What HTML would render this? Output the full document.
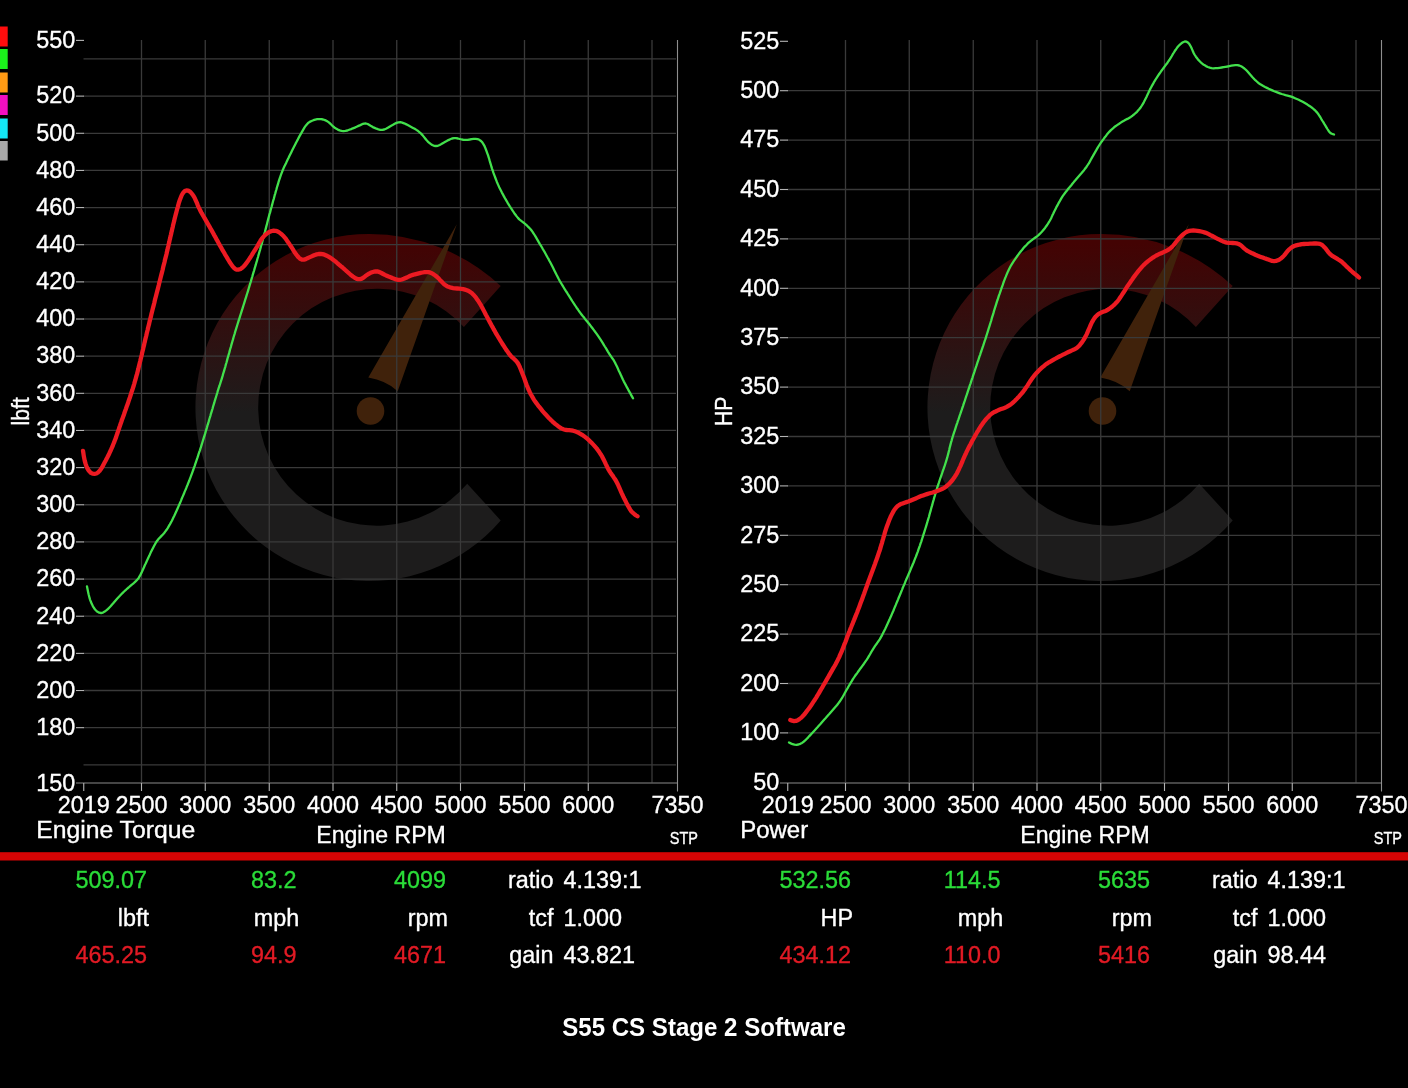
<!DOCTYPE html>
<html><head><meta charset="utf-8"><title>S55 CS Stage 2 Software</title>
<style>
html,body{margin:0;padding:0;background:#000;}
body{width:1408px;height:1088px;overflow:hidden;}
svg{display:block;font-family:"Liberation Sans",sans-serif;}
text{stroke-width:0.35px;paint-order:stroke;}
.t{fill:#fff;stroke:#fff;font-size:24.5px;}
.g{fill:#2adc38;stroke:#2adc38;font-size:24.5px;}
.r{fill:#e11a24;stroke:#e11a24;font-size:24.5px;}
</style></head><body>
<svg style="will-change:transform" width="1408" height="1088" viewBox="0 0 1408 1088">
<rect width="1408" height="1088" fill="#000"/>
<defs>
<linearGradient id="wg" gradientUnits="userSpaceOnUse" x1="0" y1="244" x2="0" y2="412">
<stop offset="0" stop-color="#430303"/><stop offset="1" stop-color="#1d1c1c"/></linearGradient>
<g id="wm">
<path d="M500.7 286A192.8 192.8 0 0 0 369 234A173.5 173.5 0 1 0 500.7 520.4L467.2 483.7A118.5 118.5 0 1 1 463.9 327Z" fill="url(#wg)"/>
<path d="M456.8 224.2L368.3 377.6Q386 380.500 397.7 391.2Z" fill="#40220b"/>
<circle cx="370.5" cy="411" r="13.8" fill="#40220b"/>
</g>
</defs>

<rect x="0" y="26.5" width="7.7" height="20.0" fill="#ff0d0d"/>
<rect x="0" y="49.0" width="7.7" height="20.0" fill="#1bf01b"/>
<rect x="0" y="72.5" width="7.7" height="20.0" fill="#ff9a14"/>
<rect x="0" y="95.0" width="7.7" height="20.0" fill="#f20fc0"/>
<rect x="0" y="118.5" width="7.7" height="20.0" fill="#14e8f5"/>
<rect x="0" y="141.0" width="7.7" height="19.5" fill="#a8a8a8"/>
<use href="#wm"/>
<use href="#wm" x="732"/>
<g stroke="#3a3a3a" stroke-width="1.3" fill="none">
<path d="M141.50 40V782.5"/>
<path d="M205.25 40V782.5"/>
<path d="M269.25 40V782.5"/>
<path d="M333.00 40V782.5"/>
<path d="M396.75 40V782.5"/>
<path d="M460.50 40V782.5"/>
<path d="M524.50 40V782.5"/>
<path d="M588.25 40V782.5"/>
<path d="M652.00 40V782.5"/>
<path d="M83.50 58.97H676.00"/>
<path d="M83.50 96.12H676.00"/>
<path d="M83.50 133.28H676.00"/>
<path d="M83.50 170.43H676.00"/>
<path d="M83.50 207.57H676.00"/>
<path d="M83.50 244.72H676.00"/>
<path d="M83.50 281.88H676.00"/>
<path d="M83.50 319.02H676.00"/>
<path d="M83.50 356.17H676.00"/>
<path d="M83.50 393.32H676.00"/>
<path d="M83.50 430.47H676.00"/>
<path d="M83.50 467.62H676.00"/>
<path d="M83.50 504.77H676.00"/>
<path d="M83.50 541.92H676.00"/>
<path d="M83.50 579.07H676.00"/>
<path d="M83.50 616.22H676.00"/>
<path d="M83.50 653.38H676.00"/>
<path d="M83.50 690.52H676.00"/>
<path d="M83.50 727.67H676.00"/>
<path d="M83.50 764.82H676.00"/>
</g>
<g stroke="#b4b4b4" stroke-width="1.1" fill="none">
<path d="M76.00 783H677.50" stroke="#8a8a8a"/>
<path d="M677.50 40V791.5" stroke="#8e8e8e"/>
<path d="M83.75 783V791"/>
<path d="M141.50 783V791"/>
<path d="M205.25 783V791"/>
<path d="M269.25 783V791"/>
<path d="M333.00 783V791"/>
<path d="M396.75 783V791"/>
<path d="M460.50 783V791"/>
<path d="M524.50 783V791"/>
<path d="M588.25 783V791"/>
<path d="M76.00 40.40H84.00"/>
<path d="M76.00 96.12H84.00"/>
<path d="M76.00 133.28H84.00"/>
<path d="M76.00 170.43H84.00"/>
<path d="M76.00 207.57H84.00"/>
<path d="M76.00 244.72H84.00"/>
<path d="M76.00 281.88H84.00"/>
<path d="M76.00 319.02H84.00"/>
<path d="M76.00 356.17H84.00"/>
<path d="M76.00 393.32H84.00"/>
<path d="M76.00 430.47H84.00"/>
<path d="M76.00 467.62H84.00"/>
<path d="M76.00 504.77H84.00"/>
<path d="M76.00 541.92H84.00"/>
<path d="M76.00 579.07H84.00"/>
<path d="M76.00 616.22H84.00"/>
<path d="M76.00 653.38H84.00"/>
<path d="M76.00 690.52H84.00"/>
<path d="M76.00 727.67H84.00"/>
</g>
<text class="t" transform="translate(75.20 47.70) scale(0.9550 1)" text-anchor="end">550</text>
<text class="t" transform="translate(75.20 103.42) scale(0.9550 1)" text-anchor="end">520</text>
<text class="t" transform="translate(75.20 140.58) scale(0.9550 1)" text-anchor="end">500</text>
<text class="t" transform="translate(75.20 177.73) scale(0.9550 1)" text-anchor="end">480</text>
<text class="t" transform="translate(75.20 214.88) scale(0.9550 1)" text-anchor="end">460</text>
<text class="t" transform="translate(75.20 252.03) scale(0.9550 1)" text-anchor="end">440</text>
<text class="t" transform="translate(75.20 289.18) scale(0.9550 1)" text-anchor="end">420</text>
<text class="t" transform="translate(75.20 326.32) scale(0.9550 1)" text-anchor="end">400</text>
<text class="t" transform="translate(75.20 363.47) scale(0.9550 1)" text-anchor="end">380</text>
<text class="t" transform="translate(75.20 400.62) scale(0.9550 1)" text-anchor="end">360</text>
<text class="t" transform="translate(75.20 437.77) scale(0.9550 1)" text-anchor="end">340</text>
<text class="t" transform="translate(75.20 474.92) scale(0.9550 1)" text-anchor="end">320</text>
<text class="t" transform="translate(75.20 512.07) scale(0.9550 1)" text-anchor="end">300</text>
<text class="t" transform="translate(75.20 549.22) scale(0.9550 1)" text-anchor="end">280</text>
<text class="t" transform="translate(75.20 586.37) scale(0.9550 1)" text-anchor="end">260</text>
<text class="t" transform="translate(75.20 623.52) scale(0.9550 1)" text-anchor="end">240</text>
<text class="t" transform="translate(75.20 660.67) scale(0.9550 1)" text-anchor="end">220</text>
<text class="t" transform="translate(75.20 697.82) scale(0.9550 1)" text-anchor="end">200</text>
<text class="t" transform="translate(75.20 734.97) scale(0.9550 1)" text-anchor="end">180</text>
<text class="t" transform="translate(75.20 790.70) scale(0.9550 1)" text-anchor="end">150</text>
<text class="t" transform="translate(83.75 812.60) scale(0.9550 1)" text-anchor="middle">2019</text>
<text class="t" transform="translate(141.50 812.60) scale(0.9550 1)" text-anchor="middle">2500</text>
<text class="t" transform="translate(205.25 812.60) scale(0.9550 1)" text-anchor="middle">3000</text>
<text class="t" transform="translate(269.25 812.60) scale(0.9550 1)" text-anchor="middle">3500</text>
<text class="t" transform="translate(333.00 812.60) scale(0.9550 1)" text-anchor="middle">4000</text>
<text class="t" transform="translate(396.75 812.60) scale(0.9550 1)" text-anchor="middle">4500</text>
<text class="t" transform="translate(460.50 812.60) scale(0.9550 1)" text-anchor="middle">5000</text>
<text class="t" transform="translate(524.50 812.60) scale(0.9550 1)" text-anchor="middle">5500</text>
<text class="t" transform="translate(588.25 812.60) scale(0.9550 1)" text-anchor="middle">6000</text>
<text class="t" transform="translate(677.50 812.60) scale(0.9550 1)" text-anchor="middle">7350</text>
<text class="t" transform="translate(36.20 837.80) scale(0.9550 1)" textLength="166.5" lengthAdjust="spacingAndGlyphs">Engine Torque</text>
<text class="t" transform="translate(316.30 843.00) scale(0.9550 1)" textLength="135.6" lengthAdjust="spacingAndGlyphs">Engine RPM</text>
<text class="t" transform="translate(669.80 844.00) scale(0.9550 1)" style="font-size:17px" textLength="29.5" lengthAdjust="spacingAndGlyphs">STP</text>
<text class="t" transform="translate(29.3 411.4) rotate(-90) scale(0.87 1)" text-anchor="middle" style="font-size:24.2px">lbft</text>
<g stroke="#3a3a3a" stroke-width="1.3" fill="none">
<path d="M845.50 40V782.5"/>
<path d="M909.25 40V782.5"/>
<path d="M973.25 40V782.5"/>
<path d="M1037.00 40V782.5"/>
<path d="M1100.75 40V782.5"/>
<path d="M1164.50 40V782.5"/>
<path d="M1228.50 40V782.5"/>
<path d="M1292.25 40V782.5"/>
<path d="M1356.00 40V782.5"/>
<path d="M787.50 90.70H1380.00"/>
<path d="M787.50 140.10H1380.00"/>
<path d="M787.50 189.50H1380.00"/>
<path d="M787.50 238.90H1380.00"/>
<path d="M787.50 288.30H1380.00"/>
<path d="M787.50 337.70H1380.00"/>
<path d="M787.50 387.10H1380.00"/>
<path d="M787.50 436.50H1380.00"/>
<path d="M787.50 485.90H1380.00"/>
<path d="M787.50 535.30H1380.00"/>
<path d="M787.50 584.70H1380.00"/>
<path d="M787.50 634.10H1380.00"/>
<path d="M787.50 683.50H1380.00"/>
<path d="M787.50 732.90H1380.00"/>
</g>
<g stroke="#b4b4b4" stroke-width="1.1" fill="none">
<path d="M780.00 783H1381.50" stroke="#8a8a8a"/>
<path d="M1381.50 40V791.5" stroke="#8e8e8e"/>
<path d="M787.75 783V791"/>
<path d="M845.50 783V791"/>
<path d="M909.25 783V791"/>
<path d="M973.25 783V791"/>
<path d="M1037.00 783V791"/>
<path d="M1100.75 783V791"/>
<path d="M1164.50 783V791"/>
<path d="M1228.50 783V791"/>
<path d="M1292.25 783V791"/>
<path d="M780.00 41.30H788.00"/>
<path d="M780.00 90.70H788.00"/>
<path d="M780.00 140.10H788.00"/>
<path d="M780.00 189.50H788.00"/>
<path d="M780.00 238.90H788.00"/>
<path d="M780.00 288.30H788.00"/>
<path d="M780.00 337.70H788.00"/>
<path d="M780.00 387.10H788.00"/>
<path d="M780.00 436.50H788.00"/>
<path d="M780.00 485.90H788.00"/>
<path d="M780.00 535.30H788.00"/>
<path d="M780.00 584.70H788.00"/>
<path d="M780.00 634.10H788.00"/>
<path d="M780.00 683.50H788.00"/>
<path d="M780.00 732.90H788.00"/>
</g>
<text class="t" transform="translate(779.20 48.60) scale(0.9550 1)" text-anchor="end">525</text>
<text class="t" transform="translate(779.20 98.00) scale(0.9550 1)" text-anchor="end">500</text>
<text class="t" transform="translate(779.20 147.40) scale(0.9550 1)" text-anchor="end">475</text>
<text class="t" transform="translate(779.20 196.80) scale(0.9550 1)" text-anchor="end">450</text>
<text class="t" transform="translate(779.20 246.20) scale(0.9550 1)" text-anchor="end">425</text>
<text class="t" transform="translate(779.20 295.60) scale(0.9550 1)" text-anchor="end">400</text>
<text class="t" transform="translate(779.20 345.00) scale(0.9550 1)" text-anchor="end">375</text>
<text class="t" transform="translate(779.20 394.40) scale(0.9550 1)" text-anchor="end">350</text>
<text class="t" transform="translate(779.20 443.80) scale(0.9550 1)" text-anchor="end">325</text>
<text class="t" transform="translate(779.20 493.20) scale(0.9550 1)" text-anchor="end">300</text>
<text class="t" transform="translate(779.20 542.60) scale(0.9550 1)" text-anchor="end">275</text>
<text class="t" transform="translate(779.20 592.00) scale(0.9550 1)" text-anchor="end">250</text>
<text class="t" transform="translate(779.20 641.40) scale(0.9550 1)" text-anchor="end">225</text>
<text class="t" transform="translate(779.20 690.80) scale(0.9550 1)" text-anchor="end">200</text>
<text class="t" transform="translate(779.20 740.20) scale(0.9550 1)" text-anchor="end">100</text>
<text class="t" transform="translate(779.20 789.60) scale(0.9550 1)" text-anchor="end">50</text>
<text class="t" transform="translate(787.75 812.60) scale(0.9550 1)" text-anchor="middle">2019</text>
<text class="t" transform="translate(845.50 812.60) scale(0.9550 1)" text-anchor="middle">2500</text>
<text class="t" transform="translate(909.25 812.60) scale(0.9550 1)" text-anchor="middle">3000</text>
<text class="t" transform="translate(973.25 812.60) scale(0.9550 1)" text-anchor="middle">3500</text>
<text class="t" transform="translate(1037.00 812.60) scale(0.9550 1)" text-anchor="middle">4000</text>
<text class="t" transform="translate(1100.75 812.60) scale(0.9550 1)" text-anchor="middle">4500</text>
<text class="t" transform="translate(1164.50 812.60) scale(0.9550 1)" text-anchor="middle">5000</text>
<text class="t" transform="translate(1228.50 812.60) scale(0.9550 1)" text-anchor="middle">5500</text>
<text class="t" transform="translate(1292.25 812.60) scale(0.9550 1)" text-anchor="middle">6000</text>
<text class="t" transform="translate(1381.50 812.60) scale(0.9550 1)" text-anchor="middle">7350</text>
<text class="t" transform="translate(740.20 837.80) scale(0.9550 1)" textLength="71.2" lengthAdjust="spacingAndGlyphs">Power</text>
<text class="t" transform="translate(1020.30 843.00) scale(0.9550 1)" textLength="135.6" lengthAdjust="spacingAndGlyphs">Engine RPM</text>
<text class="t" transform="translate(1373.80 844.00) scale(0.9550 1)" style="font-size:17px" textLength="29.5" lengthAdjust="spacingAndGlyphs">STP</text>
<text class="t" transform="translate(732.2 411.4) rotate(-90) scale(0.87 1)" text-anchor="middle" style="font-size:24.2px">HP</text>
<g fill="none" stroke-linecap="round" stroke-linejoin="round">
<path d="M87.0 586.5L87.4 588.5L87.8 590.4L88.2 592.4L88.6 594.3L89.1 596.3L89.6 598.2L90.2 600.1L91.0 602.0L91.7 603.8L92.6 605.6L93.6 607.4L94.7 609.0L96.0 610.5L97.5 611.8L99.2 612.7L101.1 613.0L103.0 612.6L104.7 611.6L106.3 610.4L107.8 609.1L109.2 607.7L110.6 606.3L111.9 604.8L113.2 603.3L114.5 601.7L115.8 600.2L117.1 598.7L118.5 597.2L119.9 595.8L121.3 594.3L122.7 592.9L124.1 591.5L125.6 590.2L127.0 588.8L128.6 587.5L130.1 586.2L131.6 584.9L133.2 583.7L134.6 582.3L136.1 580.9L137.4 579.5L138.7 577.9L139.7 576.2L140.7 574.4L141.6 572.6L142.4 570.8L143.2 569.0L144.0 567.2L144.8 565.3L145.7 563.5L146.5 561.7L147.3 559.9L148.2 558.1L149.0 556.3L149.9 554.4L150.7 552.6L151.6 550.8L152.5 549.0L153.4 547.2L154.3 545.5L155.3 543.7L156.3 542.0L157.4 540.4L158.7 538.8L160.1 537.4L161.5 535.9L162.9 534.5L164.2 533.0L165.4 531.4L166.6 529.8L167.7 528.1L168.7 526.4L169.7 524.7L170.7 522.9L171.6 521.2L172.5 519.4L173.4 517.6L174.3 515.8L175.1 514.0L176.0 512.1L176.8 510.3L177.6 508.5L178.4 506.6L179.2 504.8L180.0 503.0L180.8 501.1L181.5 499.3L182.3 497.4L183.1 495.6L183.9 493.8L184.6 491.9L185.4 490.1L186.2 488.2L186.9 486.4L187.7 484.5L188.4 482.7L189.2 480.8L189.9 478.9L190.6 477.1L191.3 475.2L192.0 473.3L192.7 471.4L193.4 469.5L194.0 467.7L194.7 465.8L195.3 463.9L196.0 462.0L196.6 460.1L197.3 458.2L197.9 456.3L198.5 454.4L199.1 452.5L199.8 450.6L200.4 448.7L201.0 446.8L201.6 444.9L202.2 443.0L202.8 441.0L203.4 439.1L204.0 437.2L204.6 435.3L205.2 433.4L205.7 431.5L206.3 429.6L206.9 427.6L207.4 425.7L208.0 423.8L208.6 421.9L209.1 420.0L209.7 418.0L210.3 416.1L210.8 414.2L211.4 412.3L212.0 410.4L212.6 408.5L213.1 406.5L213.7 404.6L214.3 402.7L214.8 400.8L215.4 398.9L216.0 397.0L216.6 395.0L217.2 393.1L217.7 391.2L218.3 389.3L218.9 387.4L219.6 385.5L220.2 383.6L220.8 381.7L221.4 379.8L222.0 377.9L222.6 375.9L223.1 374.0L223.7 372.1L224.3 370.2L224.8 368.3L225.4 366.3L225.9 364.4L226.5 362.5L227.0 360.6L227.5 358.6L228.1 356.7L228.6 354.8L229.2 352.9L229.7 350.9L230.2 349.0L230.8 347.1L231.3 345.2L231.9 343.2L232.4 341.3L233.0 339.4L233.5 337.5L234.1 335.5L234.7 333.6L235.2 331.7L235.8 329.8L236.4 327.9L237.0 326.0L237.6 324.0L238.2 322.1L238.8 320.2L239.4 318.3L240.0 316.4L240.6 314.5L241.2 312.6L241.8 310.7L242.4 308.8L243.0 306.9L243.6 305.0L244.2 303.1L244.8 301.2L245.4 299.2L246.0 297.3L246.6 295.4L247.2 293.5L247.8 291.6L248.4 289.7L248.9 287.8L249.5 285.8L250.1 283.9L250.7 282.0L251.2 280.1L251.8 278.2L252.4 276.3L252.9 274.3L253.5 272.4L254.1 270.5L254.6 268.6L255.2 266.7L255.8 264.7L256.3 262.8L256.9 260.9L257.4 259.0L258.0 257.0L258.5 255.1L259.1 253.2L259.6 251.3L260.2 249.3L260.7 247.4L261.2 245.5L261.8 243.6L262.3 241.6L262.8 239.7L263.3 237.8L263.8 235.8L264.3 233.9L264.9 232.0L265.4 230.0L265.9 228.1L266.4 226.1L266.9 224.2L267.4 222.3L267.9 220.3L268.4 218.4L268.9 216.5L269.4 214.5L270.0 212.6L270.5 210.7L271.0 208.7L271.6 206.8L272.1 204.9L272.6 203.0L273.1 201.0L273.7 199.1L274.2 197.2L274.7 195.2L275.3 193.3L275.8 191.4L276.4 189.5L276.9 187.5L277.5 185.6L278.1 183.7L278.6 181.8L279.2 179.9L279.9 178.0L280.5 176.1L281.2 174.2L281.9 172.3L282.6 170.5L283.4 168.6L284.2 166.8L285.1 165.0L286.0 163.2L286.8 161.4L287.7 159.6L288.6 157.8L289.4 156.0L290.3 154.2L291.2 152.4L292.1 150.6L293.0 148.8L293.9 147.0L294.8 145.2L295.7 143.4L296.6 141.7L297.6 139.9L298.5 138.1L299.4 136.4L300.4 134.6L301.4 132.9L302.4 131.1L303.4 129.4L304.4 127.7L305.5 126.0L306.8 124.5L308.1 123.0L309.7 121.9L311.5 121.0L313.4 120.2L315.3 119.6L317.2 119.2L319.2 119.1L321.2 119.2L323.1 119.5L325.0 120.1L326.8 121.0L328.5 122.1L330.0 123.4L331.4 124.8L332.8 126.2L334.4 127.5L336.0 128.6L337.8 129.6L339.6 130.4L341.5 130.9L343.4 131.1L345.4 130.9L347.4 130.5L349.2 129.8L351.1 129.1L352.9 128.3L354.8 127.6L356.6 126.8L358.5 125.9L360.3 125.1L362.1 124.2L364.0 123.6L365.9 123.5L367.7 124.0L369.4 125.0L371.1 126.1L372.8 127.1L374.6 127.9L376.5 128.7L378.4 129.3L380.3 129.8L382.3 129.9L384.2 129.5L386.0 128.7L387.8 127.8L389.5 126.7L391.2 125.7L393.0 124.8L394.7 123.8L396.5 122.9L398.4 122.3L400.3 122.2L402.2 122.6L404.1 123.3L405.9 124.1L407.7 125.0L409.5 126.0L411.2 126.9L413.0 127.9L414.7 128.8L416.4 129.9L418.1 131.0L419.6 132.3L421.1 133.6L422.5 135.1L423.7 136.6L425.0 138.2L426.2 139.8L427.6 141.3L429.0 142.6L430.6 143.9L432.2 145.0L434.0 145.8L435.9 146.0L437.9 145.8L439.7 145.0L441.4 144.1L443.2 143.0L444.9 142.1L446.7 141.1L448.4 140.1L450.2 139.2L452.0 138.5L454.0 138.1L455.9 138.2L457.9 138.5L459.8 139.0L461.8 139.5L463.7 139.8L465.7 139.9L467.7 139.8L469.7 139.5L471.7 139.1L473.6 138.9L475.6 138.8L477.6 139.1L479.4 139.8L481.0 141.0L482.3 142.4L483.4 144.1L484.4 145.8L485.2 147.7L485.9 149.5L486.6 151.4L487.3 153.3L488.0 155.2L488.6 157.1L489.2 159.0L489.7 160.9L490.3 162.8L490.9 164.8L491.4 166.7L492.0 168.6L492.7 170.5L493.3 172.4L494.0 174.3L494.7 176.1L495.4 178.0L496.1 179.9L496.8 181.7L497.6 183.6L498.4 185.4L499.2 187.2L500.1 189.0L501.0 190.8L501.9 192.6L502.9 194.4L503.8 196.1L504.8 197.9L505.8 199.6L506.8 201.3L507.8 203.1L508.9 204.8L509.9 206.5L511.0 208.2L512.1 209.8L513.2 211.5L514.3 213.2L515.5 214.8L516.7 216.4L517.9 217.9L519.3 219.4L520.9 220.6L522.5 221.8L524.1 223.0L525.6 224.3L527.1 225.7L528.5 227.1L529.9 228.5L531.2 230.0L532.4 231.6L533.5 233.3L534.6 235.0L535.6 236.7L536.6 238.4L537.6 240.1L538.6 241.9L539.6 243.6L540.7 245.3L541.7 247.0L542.7 248.8L543.7 250.5L544.7 252.2L545.7 254.0L546.6 255.7L547.6 257.5L548.6 259.2L549.5 261.0L550.5 262.8L551.4 264.5L552.3 266.3L553.2 268.1L554.1 269.9L555.0 271.7L555.9 273.5L556.8 275.3L557.7 277.0L558.6 278.8L559.6 280.6L560.6 282.3L561.6 284.0L562.6 285.7L563.7 287.5L564.7 289.2L565.8 290.9L566.9 292.5L567.9 294.2L569.0 295.9L570.1 297.6L571.2 299.3L572.2 301.0L573.3 302.7L574.4 304.3L575.5 306.0L576.6 307.7L577.8 309.3L578.9 311.0L580.1 312.6L581.3 314.2L582.5 315.8L583.8 317.3L585.0 318.9L586.3 320.4L587.6 322.0L588.8 323.5L590.1 325.1L591.3 326.7L592.5 328.3L593.7 329.9L594.9 331.5L596.1 333.1L597.2 334.7L598.4 336.4L599.5 338.0L600.6 339.7L601.7 341.4L602.8 343.1L603.8 344.8L604.8 346.5L605.9 348.2L606.9 349.9L607.9 351.6L609.0 353.3L610.0 355.0L611.2 356.7L612.3 358.3L613.5 359.9L614.5 361.7L615.4 363.4L616.3 365.2L617.2 367.0L618.0 368.9L618.8 370.7L619.7 372.5L620.5 374.3L621.3 376.1L622.2 378.0L623.0 379.8L623.9 381.6L624.8 383.3L625.8 385.1L626.7 386.9L627.7 388.6L628.6 390.4L629.6 392.1L630.6 393.9L631.5 395.6L632.5 397.4L633.0 398.3" stroke="#42e04c" stroke-width="2.3"/>
<path d="M83.0 450.8L83.3 452.7L83.6 454.7L83.9 456.7L84.3 458.7L84.7 460.6L85.2 462.5L85.8 464.4L86.5 466.3L87.3 468.1L88.3 469.9L89.5 471.5L90.9 472.8L92.6 473.7L94.5 473.9L96.4 473.5L98.0 472.5L99.4 471.1L100.6 469.5L101.7 467.8L102.7 466.1L103.7 464.3L104.6 462.6L105.6 460.8L106.5 459.0L107.4 457.3L108.3 455.5L109.2 453.7L110.0 451.9L110.9 450.0L111.7 448.2L112.5 446.4L113.2 444.5L114.0 442.7L114.7 440.8L115.4 438.9L116.1 437.1L116.7 435.2L117.4 433.3L118.0 431.4L118.7 429.5L119.3 427.6L120.0 425.7L120.6 423.8L121.3 421.9L121.9 420.0L122.6 418.2L123.3 416.3L124.0 414.4L124.6 412.5L125.3 410.6L126.0 408.7L126.6 406.8L127.3 405.0L128.0 403.1L128.6 401.2L129.2 399.3L129.9 397.4L130.5 395.5L131.1 393.6L131.7 391.7L132.4 389.8L133.0 387.9L133.6 386.0L134.2 384.0L134.7 382.1L135.3 380.2L135.8 378.3L136.3 376.4L136.9 374.4L137.4 372.5L137.9 370.5L138.4 368.6L138.8 366.7L139.3 364.7L139.8 362.8L140.3 360.8L140.7 358.9L141.2 356.9L141.7 355.0L142.1 353.1L142.6 351.1L143.1 349.2L143.5 347.2L144.0 345.3L144.4 343.3L144.9 341.4L145.3 339.4L145.8 337.5L146.3 335.5L146.7 333.6L147.2 331.6L147.7 329.7L148.1 327.7L148.6 325.8L149.1 323.9L149.5 321.9L150.0 320.0L150.5 318.0L151.0 316.1L151.4 314.1L151.9 312.2L152.4 310.3L152.9 308.3L153.4 306.4L153.9 304.4L154.4 302.5L154.8 300.6L155.3 298.6L155.8 296.7L156.3 294.7L156.8 292.8L157.3 290.9L157.8 288.9L158.3 287.0L158.8 285.0L159.2 283.1L159.7 281.2L160.2 279.2L160.7 277.3L161.2 275.3L161.7 273.4L162.2 271.5L162.7 269.5L163.1 267.6L163.6 265.6L164.1 263.7L164.6 261.7L165.0 259.8L165.5 257.9L166.0 255.9L166.5 254.0L166.9 252.0L167.4 250.1L167.8 248.1L168.3 246.2L168.7 244.2L169.2 242.3L169.6 240.3L170.1 238.4L170.5 236.4L171.0 234.5L171.4 232.5L171.9 230.6L172.3 228.6L172.8 226.7L173.2 224.7L173.7 222.8L174.2 220.9L174.6 218.9L175.1 217.0L175.6 215.0L176.1 213.1L176.6 211.2L177.1 209.2L177.7 207.3L178.2 205.4L178.7 203.4L179.3 201.5L180.0 199.6L180.7 197.8L181.4 195.9L182.3 194.1L183.4 192.5L184.8 191.1L186.5 190.4L188.3 190.6L189.9 191.6L191.3 193.0L192.6 194.6L193.7 196.2L194.7 198.0L195.5 199.8L196.3 201.6L197.1 203.4L197.8 205.3L198.6 207.1L199.5 208.9L200.4 210.7L201.3 212.5L202.3 214.2L203.3 216.0L204.3 217.7L205.3 219.4L206.3 221.1L207.3 222.9L208.3 224.6L209.3 226.3L210.3 228.1L211.3 229.8L212.3 231.6L213.2 233.3L214.2 235.1L215.2 236.8L216.1 238.6L217.1 240.3L218.1 242.1L219.0 243.9L220.0 245.6L221.0 247.3L222.0 249.1L223.0 250.8L224.0 252.5L225.0 254.3L226.0 256.0L227.0 257.7L228.0 259.4L229.1 261.1L230.1 262.8L231.3 264.5L232.4 266.1L233.7 267.6L235.2 269.0L236.9 269.7L238.8 269.6L240.6 268.9L242.2 267.8L243.6 266.5L245.0 265.0L246.2 263.4L247.4 261.8L248.5 260.1L249.6 258.5L250.7 256.8L251.8 255.1L252.8 253.4L253.9 251.7L255.0 250.0L256.0 248.3L257.1 246.6L258.1 244.9L259.0 243.1L260.1 241.4L261.1 239.7L262.3 238.1L263.6 236.6L265.0 235.1L266.5 233.8L268.1 232.7L269.9 231.7L271.7 231.0L273.6 230.7L275.6 230.8L277.4 231.4L279.2 232.4L280.8 233.6L282.3 234.9L283.7 236.3L285.0 237.8L286.2 239.4L287.3 241.1L288.5 242.7L289.6 244.4L290.7 246.0L291.8 247.7L292.9 249.4L293.9 251.1L295.0 252.8L296.1 254.4L297.4 256.0L298.7 257.5L300.2 258.8L301.9 259.6L303.8 259.7L305.7 259.1L307.5 258.2L309.3 257.4L311.1 256.6L312.9 255.8L314.8 255.0L316.7 254.4L318.6 254.0L320.6 253.9L322.5 254.2L324.5 254.7L326.3 255.5L328.1 256.4L329.8 257.4L331.5 258.5L333.1 259.7L334.7 260.9L336.2 262.2L337.7 263.5L339.3 264.8L340.8 266.1L342.3 267.3L343.8 268.7L345.3 270.0L346.8 271.3L348.3 272.7L349.8 274.0L351.3 275.3L352.9 276.5L354.5 277.6L356.3 278.6L358.1 279.2L360.0 279.2L361.8 278.6L363.5 277.6L365.1 276.3L366.7 275.1L368.4 274.0L370.1 273.1L372.0 272.3L373.9 271.7L375.8 271.4L377.8 271.5L379.6 272.1L381.4 273.0L383.2 274.0L384.9 274.9L386.7 275.7L388.6 276.5L390.5 277.2L392.3 278.0L394.2 278.7L396.0 279.4L398.0 279.8L400.0 279.9L401.9 279.5L403.8 278.8L405.6 278.0L407.4 277.2L409.2 276.3L411.0 275.5L412.9 274.9L414.9 274.3L416.8 273.8L418.7 273.3L420.7 272.8L422.6 272.5L424.6 272.2L426.6 272.1L428.6 272.2L430.5 272.7L432.3 273.5L434.0 274.6L435.6 275.8L437.1 277.0L438.6 278.4L439.9 279.9L441.3 281.3L442.7 282.8L444.1 284.2L445.7 285.4L447.4 286.4L449.3 287.1L451.2 287.7L453.1 288.1L455.1 288.4L457.1 288.5L459.1 288.7L461.1 288.9L463.1 289.1L465.0 289.6L466.9 290.2L468.7 291.0L470.4 292.1L472.0 293.3L473.4 294.7L474.7 296.2L476.0 297.7L477.2 299.4L478.3 301.0L479.3 302.7L480.4 304.4L481.4 306.1L482.3 307.9L483.3 309.7L484.2 311.4L485.1 313.2L486.0 315.0L487.0 316.8L487.9 318.5L488.8 320.3L489.8 322.1L490.7 323.8L491.7 325.6L492.7 327.3L493.6 329.1L494.6 330.8L495.6 332.6L496.6 334.3L497.6 336.0L498.6 337.7L499.7 339.5L500.7 341.2L501.8 342.9L502.8 344.5L503.9 346.2L505.0 347.9L506.1 349.6L507.3 351.2L508.4 352.9L509.6 354.5L510.9 356.0L512.3 357.4L513.8 358.7L515.3 360.1L516.6 361.5L517.8 363.1L518.8 364.9L519.7 366.7L520.4 368.5L521.2 370.4L521.9 372.2L522.6 374.1L523.4 375.9L524.1 377.8L524.8 379.7L525.4 381.6L526.1 383.5L526.8 385.3L527.6 387.2L528.3 389.0L529.2 390.9L530.0 392.7L530.9 394.5L531.9 396.2L532.9 397.9L533.9 399.6L535.0 401.3L536.2 402.9L537.4 404.5L538.6 406.1L539.9 407.7L541.1 409.2L542.4 410.8L543.7 412.3L545.0 413.8L546.4 415.3L547.7 416.7L549.1 418.2L550.5 419.6L552.0 421.0L553.4 422.4L554.9 423.7L556.5 424.9L558.1 426.2L559.7 427.3L561.4 428.3L563.2 429.2L565.1 429.8L567.1 430.0L569.1 430.1L571.1 430.3L573.0 430.7L574.9 431.3L576.8 432.0L578.6 432.8L580.4 433.8L582.1 434.8L583.7 435.9L585.3 437.1L586.9 438.4L588.4 439.7L589.8 441.1L591.3 442.5L592.6 443.9L594.0 445.4L595.3 446.9L596.6 448.4L597.8 450.0L599.0 451.6L600.1 453.3L601.2 455.0L602.2 456.7L603.1 458.5L604.0 460.3L604.9 462.1L605.7 463.9L606.6 465.7L607.4 467.5L608.4 469.3L609.4 471.0L610.5 472.7L611.6 474.3L612.8 475.9L613.9 477.6L615.0 479.2L616.0 480.9L617.0 482.7L617.9 484.5L618.7 486.3L619.5 488.1L620.3 490.0L621.1 491.8L621.9 493.6L622.8 495.5L623.6 497.3L624.5 499.1L625.4 500.8L626.3 502.6L627.2 504.4L628.2 506.2L629.2 507.9L630.2 509.6L631.3 511.3L632.7 512.7L634.2 514.0L635.8 515.2L637.5 516.3" stroke="#ec1a22" stroke-width="4.3"/>
<path d="M789.0 742.5L790.8 743.4L792.6 744.2L794.5 744.7L796.5 744.8L798.4 744.5L800.3 743.8L802.0 742.9L803.7 741.7L805.2 740.4L806.6 739.0L808.0 737.6L809.3 736.1L810.7 734.6L812.0 733.2L813.4 731.7L814.8 730.2L816.1 728.8L817.5 727.3L818.8 725.8L820.2 724.3L821.5 722.8L822.8 721.3L824.1 719.8L825.5 718.3L826.8 716.8L828.1 715.3L829.5 713.8L830.8 712.3L832.1 710.8L833.4 709.3L834.7 707.8L836.0 706.3L837.3 704.7L838.5 703.1L839.7 701.5L840.8 699.9L841.9 698.2L842.9 696.5L843.9 694.7L844.8 693.0L845.8 691.2L846.8 689.5L847.8 687.8L848.8 686.0L849.8 684.3L850.8 682.6L851.9 680.9L852.9 679.2L854.0 677.5L855.1 675.8L856.3 674.2L857.5 672.6L858.6 671.0L859.8 669.3L861.0 667.7L862.2 666.1L863.4 664.5L864.5 662.9L865.7 661.2L866.8 659.6L867.9 657.9L868.9 656.2L869.9 654.5L870.9 652.7L871.9 651.0L872.9 649.3L874.0 647.6L875.1 645.9L876.3 644.3L877.4 642.6L878.6 641.0L879.7 639.3L880.7 637.6L881.7 635.9L882.6 634.1L883.5 632.3L884.4 630.5L885.3 628.7L886.1 626.9L887.0 625.1L887.8 623.3L888.6 621.5L889.5 619.6L890.3 617.8L891.1 616.0L891.9 614.1L892.7 612.3L893.5 610.5L894.2 608.6L895.0 606.8L895.8 604.9L896.5 603.1L897.3 601.2L898.1 599.4L898.8 597.5L899.6 595.7L900.4 593.8L901.1 592.0L901.9 590.1L902.6 588.3L903.4 586.4L904.2 584.6L905.0 582.7L905.7 580.9L906.5 579.0L907.3 577.2L908.1 575.4L908.9 573.5L909.7 571.7L910.5 569.9L911.2 568.0L912.0 566.2L912.8 564.3L913.6 562.5L914.3 560.6L915.0 558.8L915.8 556.9L916.5 555.0L917.2 553.1L917.9 551.3L918.5 549.4L919.2 547.5L919.9 545.6L920.5 543.7L921.2 541.8L921.8 539.9L922.4 538.0L923.0 536.1L923.6 534.2L924.2 532.3L924.8 530.4L925.4 528.5L926.0 526.6L926.6 524.7L927.2 522.7L927.7 520.8L928.3 518.9L928.9 517.0L929.4 515.0L929.9 513.1L930.5 511.2L931.0 509.3L931.5 507.3L932.1 505.4L932.6 503.5L933.1 501.6L933.7 499.6L934.2 497.7L934.8 495.8L935.3 493.9L935.9 491.9L936.5 490.0L937.1 488.1L937.7 486.2L938.3 484.3L939.0 482.4L939.6 480.5L940.2 478.6L940.9 476.7L941.5 474.8L942.2 472.9L942.8 471.0L943.5 469.2L944.1 467.3L944.8 465.4L945.4 463.5L946.0 461.6L946.6 459.6L947.2 457.7L947.7 455.8L948.2 453.9L948.7 451.9L949.2 450.0L949.6 448.0L950.1 446.1L950.6 444.1L951.1 442.2L951.7 440.3L952.2 438.4L952.8 436.5L953.4 434.5L954.0 432.6L954.7 430.7L955.3 428.8L955.9 426.9L956.5 425.0L957.2 423.1L957.8 421.2L958.5 419.4L959.1 417.5L959.7 415.6L960.4 413.7L961.0 411.8L961.7 409.9L962.3 408.0L963.0 406.1L963.6 404.2L964.2 402.3L964.9 400.4L965.5 398.5L966.1 396.6L966.8 394.7L967.4 392.8L968.0 390.9L968.7 389.0L969.3 387.1L969.9 385.2L970.6 383.3L971.2 381.4L971.8 379.5L972.5 377.6L973.1 375.7L973.7 373.8L974.4 371.9L975.0 370.0L975.6 368.1L976.3 366.2L976.9 364.3L977.5 362.4L978.2 360.5L978.8 358.6L979.4 356.7L980.1 354.8L980.7 352.9L981.4 351.0L982.0 349.2L982.6 347.3L983.3 345.4L983.9 343.5L984.5 341.6L985.2 339.7L985.8 337.8L986.4 335.9L987.0 334.0L987.6 332.1L988.2 330.1L988.8 328.2L989.4 326.3L990.0 324.4L990.6 322.5L991.2 320.6L991.7 318.7L992.3 316.7L992.9 314.8L993.5 312.9L994.0 311.0L994.6 309.1L995.2 307.2L995.8 305.3L996.4 303.3L997.0 301.4L997.7 299.5L998.3 297.6L998.9 295.7L999.6 293.9L1000.2 292.0L1000.9 290.1L1001.5 288.2L1002.2 286.3L1002.9 284.4L1003.5 282.5L1004.2 280.6L1004.9 278.8L1005.7 276.9L1006.4 275.1L1007.2 273.2L1008.0 271.4L1008.9 269.6L1009.8 267.8L1010.7 266.0L1011.7 264.3L1012.8 262.6L1013.9 260.9L1015.0 259.3L1016.2 257.6L1017.3 256.0L1018.5 254.4L1019.7 252.8L1020.9 251.2L1022.2 249.7L1023.5 248.1L1024.8 246.6L1026.2 245.2L1027.6 243.7L1029.0 242.4L1030.6 241.1L1032.2 239.9L1033.8 238.7L1035.4 237.5L1037.0 236.3L1038.5 235.1L1040.0 233.7L1041.4 232.3L1042.7 230.8L1044.0 229.2L1045.2 227.7L1046.4 226.0L1047.5 224.4L1048.6 222.7L1049.6 221.0L1050.6 219.2L1051.5 217.4L1052.3 215.6L1053.2 213.8L1054.0 212.0L1054.9 210.2L1055.8 208.4L1056.7 206.6L1057.7 204.9L1058.6 203.1L1059.6 201.4L1060.6 199.6L1061.6 197.9L1062.7 196.2L1063.8 194.6L1065.0 193.0L1066.2 191.4L1067.5 189.8L1068.7 188.2L1070.0 186.7L1071.3 185.2L1072.6 183.6L1073.8 182.1L1075.1 180.6L1076.4 179.0L1077.7 177.5L1079.0 176.0L1080.3 174.5L1081.6 173.0L1082.9 171.4L1084.2 169.9L1085.4 168.3L1086.6 166.7L1087.7 165.0L1088.8 163.3L1089.8 161.6L1090.8 159.8L1091.7 158.1L1092.7 156.4L1093.7 154.6L1094.7 152.9L1095.7 151.2L1096.7 149.4L1097.7 147.7L1098.7 146.0L1099.8 144.3L1100.9 142.6L1102.1 141.0L1103.3 139.4L1104.4 137.8L1105.7 136.2L1106.9 134.6L1108.2 133.1L1109.5 131.6L1110.9 130.1L1112.4 128.8L1113.9 127.5L1115.5 126.2L1117.1 125.1L1118.8 124.0L1120.4 122.9L1122.1 121.8L1123.9 120.8L1125.6 119.8L1127.4 118.9L1129.1 117.9L1130.8 116.9L1132.5 115.7L1134.0 114.5L1135.5 113.2L1137.0 111.8L1138.3 110.3L1139.6 108.8L1140.8 107.2L1141.9 105.5L1142.9 103.8L1143.9 102.1L1144.8 100.3L1145.7 98.5L1146.6 96.7L1147.4 94.9L1148.3 93.0L1149.1 91.2L1150.0 89.4L1150.9 87.7L1151.9 85.9L1152.9 84.2L1153.8 82.4L1154.9 80.7L1155.9 79.0L1157.0 77.3L1158.1 75.6L1159.2 74.0L1160.4 72.3L1161.5 70.7L1162.7 69.1L1163.9 67.5L1165.1 65.9L1166.3 64.3L1167.5 62.7L1168.6 61.0L1169.7 59.4L1170.8 57.7L1171.8 56.0L1172.8 54.2L1173.9 52.5L1174.9 50.8L1176.1 49.2L1177.2 47.6L1178.5 46.0L1179.9 44.6L1181.4 43.3L1183.0 42.2L1184.8 41.5L1186.6 41.7L1188.2 42.8L1189.5 44.3L1190.5 46.0L1191.4 47.8L1192.2 49.6L1193.0 51.5L1193.8 53.3L1194.8 55.0L1195.9 56.7L1197.1 58.3L1198.3 59.9L1199.7 61.3L1201.1 62.7L1202.6 64.0L1204.3 65.1L1206.0 66.1L1207.8 67.0L1209.7 67.6L1211.6 68.1L1213.6 68.3L1215.6 68.2L1217.6 68.1L1219.6 67.8L1221.5 67.5L1223.5 67.1L1225.5 66.8L1227.5 66.5L1229.4 66.1L1231.4 65.7L1233.4 65.3L1235.3 65.1L1237.3 65.1L1239.2 65.5L1241.1 66.3L1242.8 67.3L1244.4 68.5L1245.9 69.8L1247.3 71.3L1248.6 72.8L1249.9 74.3L1251.2 75.8L1252.5 77.3L1253.9 78.7L1255.3 80.2L1256.8 81.5L1258.3 82.8L1259.9 84.0L1261.6 85.0L1263.3 86.0L1265.1 87.0L1266.9 87.9L1268.7 88.8L1270.5 89.6L1272.3 90.4L1274.2 91.2L1276.0 91.9L1277.9 92.6L1279.8 93.3L1281.7 94.0L1283.6 94.5L1285.5 95.1L1287.5 95.6L1289.4 96.1L1291.3 96.7L1293.2 97.4L1295.0 98.2L1296.9 99.0L1298.7 99.8L1300.5 100.7L1302.2 101.6L1304.0 102.6L1305.7 103.6L1307.4 104.6L1309.1 105.7L1310.8 106.8L1312.4 108.0L1313.9 109.3L1315.4 110.7L1316.7 112.1L1318.0 113.7L1319.1 115.4L1320.2 117.0L1321.2 118.8L1322.2 120.5L1323.3 122.2L1324.3 123.9L1325.4 125.6L1326.4 127.3L1327.4 129.0L1328.5 130.7L1329.7 132.3L1331.2 133.5L1333.0 134.2L1334.0 134.5" stroke="#42e04c" stroke-width="2.3"/>
<path d="M790.3 720.0L792.1 720.7L794.0 721.1L795.9 720.9L797.7 720.2L799.4 719.1L801.0 717.9L802.4 716.5L803.8 715.0L805.1 713.5L806.3 711.9L807.5 710.3L808.7 708.7L809.9 707.1L811.0 705.5L812.1 703.8L813.2 702.1L814.3 700.5L815.4 698.8L816.5 697.1L817.5 695.4L818.6 693.7L819.6 691.9L820.6 690.2L821.6 688.5L822.6 686.8L823.6 685.0L824.6 683.3L825.6 681.6L826.6 679.8L827.6 678.1L828.6 676.4L829.6 674.6L830.6 672.9L831.6 671.2L832.6 669.4L833.6 667.7L834.6 666.0L835.6 664.2L836.5 662.4L837.4 660.7L838.3 658.9L839.2 657.1L840.0 655.2L840.8 653.4L841.6 651.6L842.4 649.7L843.1 647.9L843.8 646.0L844.5 644.1L845.3 642.3L846.0 640.4L846.7 638.5L847.4 636.6L848.1 634.8L848.8 632.9L849.6 631.0L850.3 629.2L851.1 627.3L851.8 625.5L852.6 623.6L853.3 621.8L854.1 619.9L854.8 618.1L855.6 616.2L856.3 614.3L857.1 612.5L857.8 610.6L858.5 608.8L859.2 606.9L859.9 605.0L860.6 603.1L861.3 601.3L862.0 599.4L862.7 597.5L863.4 595.6L864.1 593.7L864.7 591.9L865.4 590.0L866.1 588.1L866.8 586.2L867.4 584.3L868.1 582.4L868.8 580.6L869.5 578.7L870.2 576.8L870.9 574.9L871.6 573.0L872.3 571.2L873.0 569.3L873.7 567.4L874.4 565.5L875.1 563.7L875.7 561.8L876.4 559.9L877.1 558.0L877.8 556.1L878.4 554.2L879.0 552.3L879.7 550.4L880.3 548.5L880.8 546.6L881.4 544.7L882.0 542.8L882.5 540.8L883.1 538.9L883.6 537.0L884.2 535.1L884.7 533.2L885.3 531.2L885.9 529.3L886.5 527.4L887.2 525.5L887.9 523.7L888.6 521.8L889.3 519.9L890.1 518.1L890.9 516.2L891.8 514.4L892.7 512.7L893.7 510.9L894.8 509.3L896.0 507.7L897.4 506.3L899.0 505.1L900.7 504.1L902.6 503.4L904.5 502.7L906.4 502.1L908.3 501.5L910.2 500.8L912.0 500.0L913.8 499.2L915.7 498.4L917.5 497.6L919.4 496.8L921.2 496.1L923.1 495.4L925.0 494.7L926.9 494.1L928.8 493.5L930.7 493.0L932.7 492.5L934.6 491.9L936.5 491.3L938.3 490.6L940.2 489.8L942.0 489.0L943.8 488.1L945.5 487.0L947.0 485.8L948.5 484.4L949.9 483.0L951.2 481.5L952.5 480.0L953.7 478.3L954.8 476.7L955.9 475.0L956.9 473.3L957.8 471.5L958.7 469.7L959.5 467.9L960.4 466.1L961.2 464.2L962.0 462.4L962.7 460.5L963.5 458.7L964.3 456.9L965.1 455.0L966.0 453.2L966.8 451.4L967.7 449.6L968.6 447.8L969.5 446.1L970.5 444.3L971.4 442.5L972.3 440.7L973.3 439.0L974.3 437.2L975.2 435.5L976.2 433.8L977.2 432.0L978.3 430.3L979.3 428.6L980.4 426.9L981.5 425.3L982.6 423.6L983.8 422.0L985.1 420.4L986.3 418.9L987.7 417.4L989.1 416.0L990.5 414.6L992.1 413.4L993.8 412.3L995.6 411.5L997.4 410.6L999.2 409.8L1001.1 409.1L1003.0 408.4L1004.9 407.7L1006.7 406.9L1008.4 405.9L1010.1 404.9L1011.7 403.6L1013.2 402.3L1014.7 401.0L1016.1 399.6L1017.5 398.1L1018.9 396.7L1020.2 395.2L1021.5 393.7L1022.8 392.1L1024.0 390.5L1025.2 388.9L1026.3 387.2L1027.4 385.6L1028.5 383.9L1029.6 382.2L1030.7 380.5L1031.8 378.9L1033.0 377.3L1034.2 375.7L1035.5 374.2L1036.8 372.7L1038.2 371.2L1039.6 369.8L1041.0 368.4L1042.5 367.1L1044.1 365.8L1045.6 364.5L1047.3 363.4L1048.9 362.3L1050.7 361.3L1052.4 360.3L1054.1 359.3L1055.9 358.4L1057.7 357.4L1059.4 356.5L1061.2 355.6L1063.0 354.7L1064.8 353.8L1066.6 352.9L1068.4 352.0L1070.2 351.2L1072.0 350.4L1073.9 349.6L1075.7 348.7L1077.3 347.6L1078.7 346.2L1080.1 344.7L1081.3 343.2L1082.5 341.5L1083.6 339.9L1084.6 338.1L1085.6 336.4L1086.5 334.6L1087.3 332.8L1088.1 330.9L1088.9 329.1L1089.7 327.3L1090.5 325.4L1091.3 323.6L1092.2 321.8L1093.2 320.1L1094.3 318.4L1095.5 316.8L1096.9 315.4L1098.4 314.1L1100.1 313.1L1101.9 312.3L1103.8 311.6L1105.7 310.9L1107.4 310.0L1109.1 308.9L1110.7 307.7L1112.3 306.5L1113.8 305.2L1115.2 303.8L1116.6 302.3L1117.9 300.8L1119.1 299.2L1120.2 297.5L1121.3 295.9L1122.4 294.2L1123.5 292.5L1124.6 290.8L1125.6 289.1L1126.7 287.4L1127.8 285.7L1128.9 284.1L1130.1 282.4L1131.2 280.8L1132.4 279.2L1133.5 277.5L1134.7 275.9L1135.9 274.3L1137.1 272.7L1138.3 271.1L1139.6 269.6L1140.9 268.1L1142.2 266.6L1143.6 265.1L1145.1 263.7L1146.6 262.4L1148.1 261.1L1149.7 259.9L1151.3 258.7L1152.9 257.6L1154.6 256.5L1156.3 255.5L1158.1 254.6L1159.9 253.7L1161.8 252.9L1163.6 252.1L1165.4 251.3L1167.2 250.4L1168.9 249.4L1170.5 248.2L1172.0 246.9L1173.4 245.4L1174.7 243.9L1175.9 242.3L1177.1 240.7L1178.4 239.2L1179.7 237.7L1181.1 236.3L1182.6 234.9L1184.1 233.6L1185.7 232.4L1187.5 231.5L1189.3 230.9L1191.3 230.6L1193.3 230.5L1195.3 230.6L1197.3 230.8L1199.3 231.1L1201.2 231.5L1203.2 232.0L1205.1 232.6L1206.9 233.3L1208.7 234.1L1210.5 235.1L1212.3 236.0L1214.0 236.9L1215.8 237.9L1217.6 238.8L1219.4 239.7L1221.2 240.6L1223.0 241.4L1224.9 242.1L1226.8 242.6L1228.8 242.8L1230.8 242.9L1232.8 243.0L1234.8 243.1L1236.7 243.4L1238.6 244.0L1240.3 244.9L1241.9 246.2L1243.3 247.6L1244.8 248.9L1246.3 250.1L1248.0 251.2L1249.8 252.1L1251.6 253.0L1253.4 253.8L1255.3 254.7L1257.1 255.5L1258.9 256.2L1260.8 256.9L1262.7 257.6L1264.6 258.3L1266.5 258.9L1268.3 259.6L1270.2 260.3L1272.1 260.9L1274.1 261.1L1276.0 260.9L1277.9 260.3L1279.7 259.3L1281.3 258.2L1282.8 256.9L1284.2 255.4L1285.4 253.9L1286.6 252.3L1287.9 250.7L1289.3 249.3L1290.8 248.0L1292.5 246.9L1294.2 246.0L1296.1 245.4L1298.1 244.9L1300.0 244.5L1302.0 244.2L1304.0 244.0L1306.0 243.9L1308.0 243.8L1310.0 243.7L1312.0 243.6L1314.0 243.5L1316.0 243.5L1318.0 243.6L1319.9 243.9L1321.7 244.7L1323.2 246.0L1324.6 247.4L1325.9 248.9L1327.1 250.5L1328.3 252.1L1329.6 253.6L1331.1 255.0L1332.7 256.2L1334.4 257.2L1336.1 258.2L1337.8 259.2L1339.5 260.3L1341.2 261.4L1342.7 262.7L1344.2 264.1L1345.6 265.5L1347.0 266.9L1348.5 268.3L1349.9 269.6L1351.4 271.0L1352.9 272.3L1354.4 273.6L1356.0 274.9L1357.5 276.2L1359.0 277.5" stroke="#ec1a22" stroke-width="4.3"/>
</g>
<rect x="0" y="852.2" width="1408" height="8.3" fill="#d60404"/>
<text class="g" transform="translate(147.00 888.00) scale(0.9550 1)" text-anchor="end">509.07</text>
<text class="g" transform="translate(296.50 888.00) scale(0.9550 1)" text-anchor="end">83.2</text>
<text class="g" transform="translate(446.00 888.00) scale(0.9550 1)" text-anchor="end">4099</text>
<text class="t" transform="translate(553.50 888.00) scale(0.9550 1)" text-anchor="end">ratio</text>
<text class="t" transform="translate(563.50 888.00) scale(0.9550 1)">4.139:1</text>
<text class="t" transform="translate(149.00 926.20) scale(0.9550 1)" text-anchor="end">lbft</text>
<text class="t" transform="translate(299.30 926.20) scale(0.9550 1)" text-anchor="end">mph</text>
<text class="t" transform="translate(448.00 926.20) scale(0.9550 1)" text-anchor="end">rpm</text>
<text class="t" transform="translate(553.50 926.20) scale(0.9550 1)" text-anchor="end">tcf</text>
<text class="t" transform="translate(563.50 926.20) scale(0.9550 1)">1.000</text>
<text class="r" transform="translate(147.00 963.00) scale(0.9550 1)" text-anchor="end">465.25</text>
<text class="r" transform="translate(296.50 963.00) scale(0.9550 1)" text-anchor="end">94.9</text>
<text class="r" transform="translate(446.00 963.00) scale(0.9550 1)" text-anchor="end">4671</text>
<text class="t" transform="translate(553.50 963.00) scale(0.9550 1)" text-anchor="end">gain</text>
<text class="t" transform="translate(563.50 963.00) scale(0.9550 1)">43.821</text>
<text class="g" transform="translate(851.00 888.00) scale(0.9550 1)" text-anchor="end">532.56</text>
<text class="g" transform="translate(1000.50 888.00) scale(0.9550 1)" text-anchor="end">114.5</text>
<text class="g" transform="translate(1150.00 888.00) scale(0.9550 1)" text-anchor="end">5635</text>
<text class="t" transform="translate(1257.50 888.00) scale(0.9550 1)" text-anchor="end">ratio</text>
<text class="t" transform="translate(1267.50 888.00) scale(0.9550 1)">4.139:1</text>
<text class="t" transform="translate(853.00 926.20) scale(0.9550 1)" text-anchor="end">HP</text>
<text class="t" transform="translate(1003.30 926.20) scale(0.9550 1)" text-anchor="end">mph</text>
<text class="t" transform="translate(1152.00 926.20) scale(0.9550 1)" text-anchor="end">rpm</text>
<text class="t" transform="translate(1257.50 926.20) scale(0.9550 1)" text-anchor="end">tcf</text>
<text class="t" transform="translate(1267.50 926.20) scale(0.9550 1)">1.000</text>
<text class="r" transform="translate(851.00 963.00) scale(0.9550 1)" text-anchor="end">434.12</text>
<text class="r" transform="translate(1000.50 963.00) scale(0.9550 1)" text-anchor="end">110.0</text>
<text class="r" transform="translate(1150.00 963.00) scale(0.9550 1)" text-anchor="end">5416</text>
<text class="t" transform="translate(1257.50 963.00) scale(0.9550 1)" text-anchor="end">gain</text>
<text class="t" transform="translate(1267.50 963.00) scale(0.9550 1)">98.44</text>
<text transform="translate(704 1035.5) scale(0.93 1)" text-anchor="middle" fill="#fff" style="font-size:26px;font-weight:bold" textLength="305" lengthAdjust="spacingAndGlyphs">S55 CS Stage 2 Software</text>
</svg></body></html>
